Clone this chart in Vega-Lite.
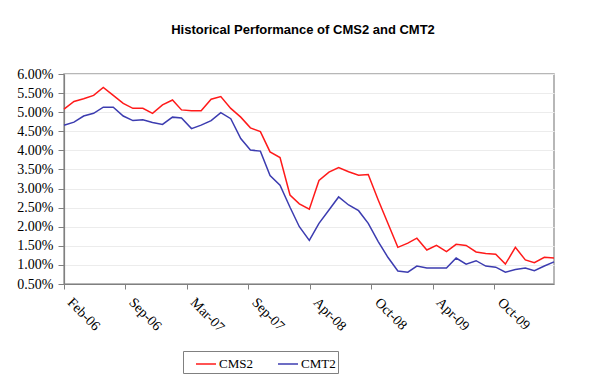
{
  "$schema": "https://vega.github.io/schema/vega-lite/v6.json",
  "autosize": "none",
  "width": 490,
  "height": 210,
  "padding": {"left": 64, "top": 74, "right": 53, "bottom": 108},
  "background": "white",
  "title": {
    "text": "Historical Performance of CMS2 and CMT2",
    "font": "Liberation Sans",
    "fontSize": 13,
    "fontWeight": "bold",
    "color": "black",
    "anchor": "middle",
    "offset": 30,
    "dx": -6
  },
  "data": {
    "values": [
      {"date": "2006-02-28", "series": "CMS2", "rate": 5.08},
      {"date": "2006-03-31", "series": "CMS2", "rate": 5.28},
      {"date": "2006-04-30", "series": "CMS2", "rate": 5.35},
      {"date": "2006-05-31", "series": "CMS2", "rate": 5.44},
      {"date": "2006-06-30", "series": "CMS2", "rate": 5.65},
      {"date": "2006-07-31", "series": "CMS2", "rate": 5.44},
      {"date": "2006-08-31", "series": "CMS2", "rate": 5.23},
      {"date": "2006-09-30", "series": "CMS2", "rate": 5.10},
      {"date": "2006-10-31", "series": "CMS2", "rate": 5.10},
      {"date": "2006-11-30", "series": "CMS2", "rate": 4.97},
      {"date": "2006-12-31", "series": "CMS2", "rate": 5.19},
      {"date": "2007-01-31", "series": "CMS2", "rate": 5.32},
      {"date": "2007-02-28", "series": "CMS2", "rate": 5.06},
      {"date": "2007-03-31", "series": "CMS2", "rate": 5.04},
      {"date": "2007-04-30", "series": "CMS2", "rate": 5.04},
      {"date": "2007-05-31", "series": "CMS2", "rate": 5.34},
      {"date": "2007-06-30", "series": "CMS2", "rate": 5.41},
      {"date": "2007-07-31", "series": "CMS2", "rate": 5.10},
      {"date": "2007-08-31", "series": "CMS2", "rate": 4.87},
      {"date": "2007-09-30", "series": "CMS2", "rate": 4.59},
      {"date": "2007-10-31", "series": "CMS2", "rate": 4.49},
      {"date": "2007-11-30", "series": "CMS2", "rate": 3.96},
      {"date": "2007-12-31", "series": "CMS2", "rate": 3.81},
      {"date": "2008-01-31", "series": "CMS2", "rate": 2.83},
      {"date": "2008-02-29", "series": "CMS2", "rate": 2.60},
      {"date": "2008-03-31", "series": "CMS2", "rate": 2.46},
      {"date": "2008-04-30", "series": "CMS2", "rate": 3.21},
      {"date": "2008-05-31", "series": "CMS2", "rate": 3.43},
      {"date": "2008-06-30", "series": "CMS2", "rate": 3.55},
      {"date": "2008-07-31", "series": "CMS2", "rate": 3.44},
      {"date": "2008-08-31", "series": "CMS2", "rate": 3.35},
      {"date": "2008-09-30", "series": "CMS2", "rate": 3.37},
      {"date": "2008-10-31", "series": "CMS2", "rate": 2.70},
      {"date": "2008-11-30", "series": "CMS2", "rate": 2.09},
      {"date": "2008-12-31", "series": "CMS2", "rate": 1.46},
      {"date": "2009-01-31", "series": "CMS2", "rate": 1.57},
      {"date": "2009-02-28", "series": "CMS2", "rate": 1.70},
      {"date": "2009-03-31", "series": "CMS2", "rate": 1.39},
      {"date": "2009-04-30", "series": "CMS2", "rate": 1.51},
      {"date": "2009-05-31", "series": "CMS2", "rate": 1.35},
      {"date": "2009-06-30", "series": "CMS2", "rate": 1.54},
      {"date": "2009-07-31", "series": "CMS2", "rate": 1.51},
      {"date": "2009-08-31", "series": "CMS2", "rate": 1.34},
      {"date": "2009-09-30", "series": "CMS2", "rate": 1.30},
      {"date": "2009-10-31", "series": "CMS2", "rate": 1.28},
      {"date": "2009-11-30", "series": "CMS2", "rate": 1.02},
      {"date": "2009-12-31", "series": "CMS2", "rate": 1.46},
      {"date": "2010-01-31", "series": "CMS2", "rate": 1.13},
      {"date": "2010-02-28", "series": "CMS2", "rate": 1.06},
      {"date": "2010-03-31", "series": "CMS2", "rate": 1.20},
      {"date": "2010-04-30", "series": "CMS2", "rate": 1.18},
      {"date": "2006-02-28", "series": "CMT2", "rate": 4.66},
      {"date": "2006-03-31", "series": "CMT2", "rate": 4.74},
      {"date": "2006-04-30", "series": "CMT2", "rate": 4.90},
      {"date": "2006-05-31", "series": "CMT2", "rate": 4.97},
      {"date": "2006-06-30", "series": "CMT2", "rate": 5.13},
      {"date": "2006-07-31", "series": "CMT2", "rate": 5.13},
      {"date": "2006-08-31", "series": "CMT2", "rate": 4.90},
      {"date": "2006-09-30", "series": "CMT2", "rate": 4.78},
      {"date": "2006-10-31", "series": "CMT2", "rate": 4.80},
      {"date": "2006-11-30", "series": "CMT2", "rate": 4.73},
      {"date": "2006-12-31", "series": "CMT2", "rate": 4.68},
      {"date": "2007-01-31", "series": "CMT2", "rate": 4.87},
      {"date": "2007-02-28", "series": "CMT2", "rate": 4.85},
      {"date": "2007-03-31", "series": "CMT2", "rate": 4.57},
      {"date": "2007-04-30", "series": "CMT2", "rate": 4.66},
      {"date": "2007-05-31", "series": "CMT2", "rate": 4.78},
      {"date": "2007-06-30", "series": "CMT2", "rate": 4.99},
      {"date": "2007-07-31", "series": "CMT2", "rate": 4.83},
      {"date": "2007-08-31", "series": "CMT2", "rate": 4.31},
      {"date": "2007-09-30", "series": "CMT2", "rate": 4.01},
      {"date": "2007-10-31", "series": "CMT2", "rate": 3.98},
      {"date": "2007-11-30", "series": "CMT2", "rate": 3.34},
      {"date": "2007-12-31", "series": "CMT2", "rate": 3.09},
      {"date": "2008-01-31", "series": "CMT2", "rate": 2.51},
      {"date": "2008-02-29", "series": "CMT2", "rate": 2.00},
      {"date": "2008-03-31", "series": "CMT2", "rate": 1.64},
      {"date": "2008-04-30", "series": "CMT2", "rate": 2.09},
      {"date": "2008-05-31", "series": "CMT2", "rate": 2.44},
      {"date": "2008-06-30", "series": "CMT2", "rate": 2.78},
      {"date": "2008-07-31", "series": "CMT2", "rate": 2.57},
      {"date": "2008-08-31", "series": "CMT2", "rate": 2.42},
      {"date": "2008-09-30", "series": "CMT2", "rate": 2.09},
      {"date": "2008-10-31", "series": "CMT2", "rate": 1.61},
      {"date": "2008-11-30", "series": "CMT2", "rate": 1.20},
      {"date": "2008-12-31", "series": "CMT2", "rate": 0.84},
      {"date": "2009-01-31", "series": "CMT2", "rate": 0.81},
      {"date": "2009-02-28", "series": "CMT2", "rate": 0.97},
      {"date": "2009-03-31", "series": "CMT2", "rate": 0.92},
      {"date": "2009-04-30", "series": "CMT2", "rate": 0.92},
      {"date": "2009-05-31", "series": "CMT2", "rate": 0.92},
      {"date": "2009-06-30", "series": "CMT2", "rate": 1.18},
      {"date": "2009-07-31", "series": "CMT2", "rate": 1.02},
      {"date": "2009-08-31", "series": "CMT2", "rate": 1.11},
      {"date": "2009-09-30", "series": "CMT2", "rate": 0.97},
      {"date": "2009-10-31", "series": "CMT2", "rate": 0.94},
      {"date": "2009-11-30", "series": "CMT2", "rate": 0.81},
      {"date": "2009-12-31", "series": "CMT2", "rate": 0.88},
      {"date": "2010-01-31", "series": "CMT2", "rate": 0.92},
      {"date": "2010-02-28", "series": "CMT2", "rate": 0.85},
      {"date": "2010-03-31", "series": "CMT2", "rate": 0.97},
      {"date": "2010-04-30", "series": "CMT2", "rate": 1.08}
    ]
  },
  "mark": {"type": "line", "strokeWidth": 1.5},
  "encoding": {
    "x": {
      "field": "date",
      "type": "temporal",
      "scale": {
        "type": "utc",
        "domain": [
          {"year": 2006, "month": 2, "date": 28, "utc": true},
          {"year": 2010, "month": 4, "date": 30, "utc": true}
        ]
      },
      "axis": {
        "title": null,
        "values": [
          {"year": 2006, "month": 2, "date": 28, "utc": true},
          {"year": 2006, "month": 9, "date": 7, "utc": true},
          {"year": 2007, "month": 3, "date": 17, "utc": true},
          {"year": 2007, "month": 9, "date": 24, "utc": true},
          {"year": 2008, "month": 4, "date": 2, "utc": true},
          {"year": 2008, "month": 10, "date": 10, "utc": true},
          {"year": 2009, "month": 4, "date": 19, "utc": true},
          {"year": 2009, "month": 10, "date": 27, "utc": true}
        ],
        "format": "%b-%y",
        "labelAngle": 45,
        "labelAlign": "left",
        "labelBaseline": "middle",
        "labelPadding": 11,
        "labelOffset": 5,
        "tickSize": 5,
        "grid": false,
        "labelFlush": false,
        "labelOverlap": false
      }
    },
    "y": {
      "field": "rate",
      "type": "quantitative",
      "scale": {"domain": [0.5, 6], "nice": false, "zero": false},
      "axis": {
        "title": null,
        "values": [0.5, 1, 1.5, 2, 2.5, 3, 3.5, 4, 4.5, 5, 5.5, 6],
        "labelExpr": "format(datum.value, '.2f') + '%'",
        "tickSize": 6,
        "labelPadding": 5,
        "grid": true
      }
    },
    "color": {
      "field": "series",
      "type": "nominal",
      "scale": {"domain": ["CMS2", "CMT2"], "range": ["#ff1a1a", "#3c3cb0"]},
      "legend": {
        "title": null,
        "orient": "none",
        "legendX": 119,
        "legendY": 277,
        "direction": "horizontal",
        "strokeColor": "#808080",
        "padding": 2,
        "symbolType": "stroke",
        "symbolSize": 400,
        "symbolStrokeWidth": 1.5,
        "symbolOffset": 10,
        "labelFont": "Liberation Serif",
        "labelFontSize": 13,
        "labelColor": "black",
        "labelOffset": 2,
        "columnPadding": 14
      }
    }
  },
  "config": {
    "view": {"stroke": "#a0a0a0", "strokeWidth": 1.5},
    "axis": {
      "labelFont": "Liberation Serif",
      "labelFontSize": 14,
      "labelColor": "black",
      "domainColor": "#808080",
      "tickColor": "#808080",
      "gridColor": "#ececec",
      "domainWidth": 1.2
    }
  }
}
